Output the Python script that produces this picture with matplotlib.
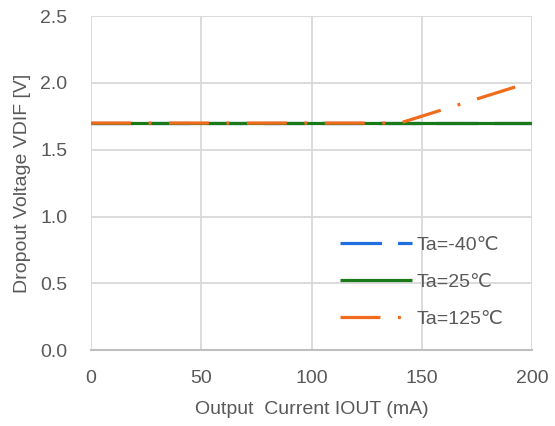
import matplotlib
matplotlib.use("Agg")
import matplotlib.pyplot as plt

plt.rcParams['font.family'] = ['Liberation Sans', 'DejaVu Sans']

# Data
i_out_m40 = [0, 200]
v_m40 = [1.70, 1.70]
i_out_25 = [0, 200]
v_25 = [1.70, 1.70]
i_out_125 = [0, 140, 200]
v_125 = [1.70, 1.70, 2.01]
labels = ['Ta=-40\u2103', 'Ta=25\u2103', 'Ta=125\u2103']
x_ticks = [0, 50, 100, 150, 200]
y_ticks = [0.0, 0.5, 1.0, 1.5, 2.0, 2.5]

text_col = '#595959'
blue = '#1f6fe0'
green = '#1a7a1a'
orange = '#f26b1d'

fig = plt.figure(figsize=(5.55, 4.26), dpi=100)
ax = fig.add_axes([0.164, 0.178, 0.795, 0.784])

lw = 2.3
l1, = ax.plot(i_out_m40, v_m40, color=blue, lw=lw, dashes=(13, 5), label=labels[0])
l2, = ax.plot(i_out_25, v_25, color=green, lw=lw, label=labels[1], solid_capstyle='butt')
l3, = ax.plot(i_out_125, v_125, color=orange, lw=lw, dashes=(12.5, 5.5, 0.9, 5.5), label=labels[2])

ax.set_xlim(0, 200)
ax.set_ylim(0, 2.5)
ax.set_xticks(x_ticks)
ax.set_yticks(y_ticks)
ax.set_yticklabels([f'{v:.1f}' for v in y_ticks])
ax.grid(True, color='#d9d9d9', lw=1.3)
ax.set_axisbelow(True)
for s in ['top', 'right', 'left']:
    ax.spines[s].set_visible(False)
ax.spines['bottom'].set_color('#bfbfbf')
ax.spines['bottom'].set_linewidth(1.5)
ax.tick_params(length=0, labelsize=14, colors=text_col)
ax.tick_params(axis='x', pad=14)
ax.tick_params(axis='y', pad=17)

ax.set_xlabel('Output  Current IOUT (mA)', fontsize=14, color=text_col, labelpad=10)
ax.set_ylabel('Dropout Voltage VDIF [V]', fontsize=14, color=text_col, labelpad=7)

leg = ax.legend(handles=[l1, l2, l3], loc='center', bbox_to_anchor=(0.760, 0.338),
                bbox_transform=fig.transFigure,
                frameon=False, fontsize=14, handlelength=3.7, handletextpad=0.25,
                labelspacing=1.0, labelcolor=text_col)

fig.savefig('out.png', dpi=100)
